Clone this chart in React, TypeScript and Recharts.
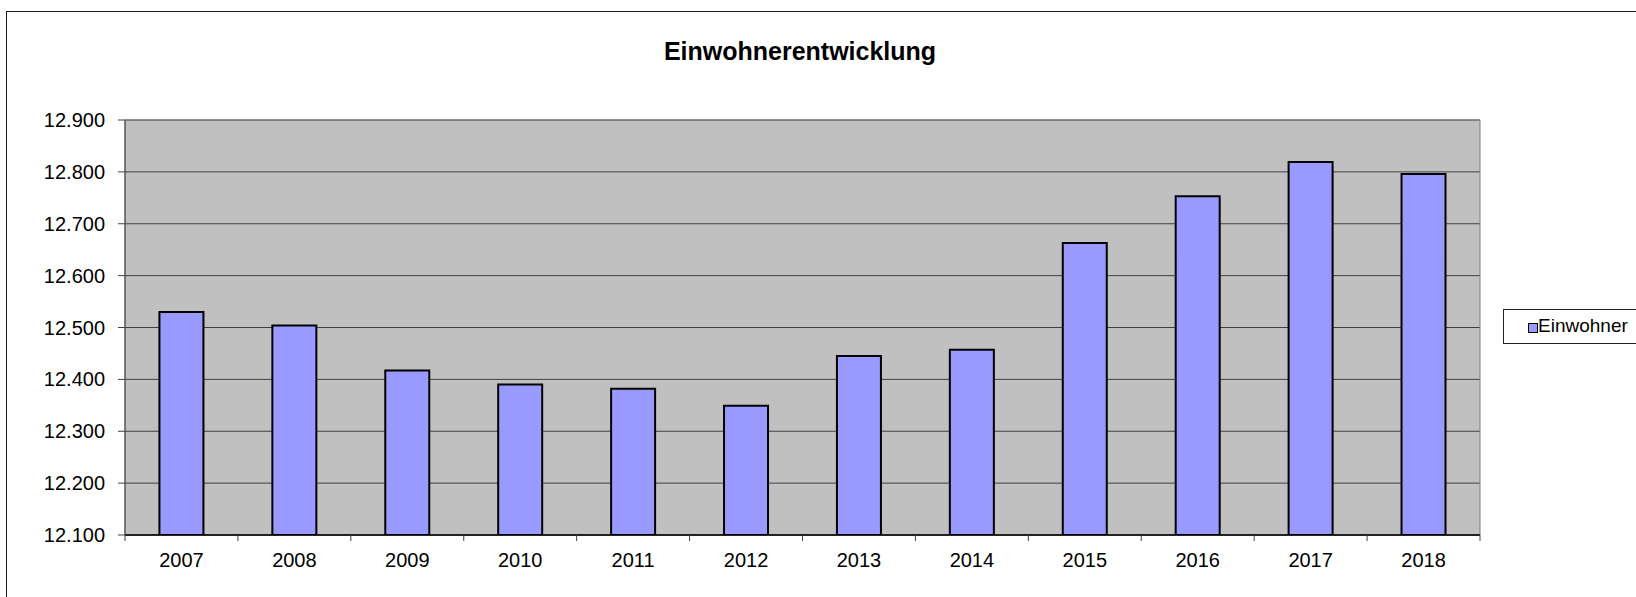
import React from 'react';
import { BarChart, Bar, XAxis, YAxis, CartesianGrid, ReferenceArea } from 'recharts';

const years = ['2007', '2008', '2009', '2010', '2011', '2012', '2013', '2014', '2015', '2016', '2017', '2018'];
const einwohner = [12530, 12504, 12417, 12390, 12382, 12349, 12445, 12457, 12663, 12753, 12819, 12796];
const yTicks = [12100, 12200, 12300, 12400, 12500, 12600, 12700, 12800, 12900];
const seriesName = 'Einwohner';
const title = 'Einwohnerentwicklung';

const data = years.map((y, i) => ({ year: y, value: einwohner[i] }));

const FONT = '"Liberation Sans", Arial, sans-serif';

const fmt = (v: number) => {
  const t = Math.floor(v / 1000);
  const r = String(v % 1000).padStart(3, '0');
  return `${t}.${r}`;
};

const X_TICK_SIZE = 6;
const X_TICK_MARGIN = 11.5;

const XTick = (props: any) => {
  const { x, y, payload, index, visibleTicksCount, width } = props;
  const half = payload && typeof payload.offset === 'number' && payload.offset > 0
    ? payload.offset
    : width / visibleTicksCount / 2;
  const axisY = y - X_TICK_MARGIN - X_TICK_SIZE;
  return (
    <g>
      <line x1={x - half} x2={x - half} y1={axisY} y2={axisY + X_TICK_SIZE} stroke="#404040" strokeWidth={1} />
      {index === visibleTicksCount - 1 && (
        <line x1={x + half} x2={x + half} y1={axisY} y2={axisY + X_TICK_SIZE} stroke="#404040" strokeWidth={1} />
      )}
      <text x={x} y={y} dy="0.71em" textAnchor="middle" fill="#000" fontSize={20} fontFamily={FONT}>
        {payload.value}
      </text>
    </g>
  );
};

export default function App() {
  return (
    <div style={{ position: 'fixed', left: 0, top: 0, width: 1636, height: 597, overflow: 'hidden', background: '#fff' }}>
      <div style={{ position: 'absolute', left: 6, top: 11, width: 1700, height: 700, border: '1px solid #1a1a1a', boxSizing: 'border-box' }} />
      <svg style={{ position: 'absolute', left: 0, top: 0 }} width={1636} height={100}>
        <text x={800} y={60} textAnchor="middle" fontFamily={FONT} fontWeight="bold" fontSize={25} fill="#000">
          {title}
        </text>
      </svg>
      <div style={{ position: 'absolute', left: 0, top: 0 }}>
        <BarChart
          width={1636}
          height={597}
          data={data}
          margin={{ top: 120, right: 156, bottom: 0, left: 0 }}
          barCategoryGap="30.5%"
        >
          <CartesianGrid vertical={false} stroke="#404040" fill="#C0C0C0" fillOpacity={1} />
          <ReferenceArea x1="2007" x2="2018" y1={12100} y2={12900} fill="none" stroke="#808080" strokeWidth={1} ifOverflow="visible" />
          <XAxis
            dataKey="year"
            height={62}
            axisLine={{ stroke: '#000', strokeWidth: 1.5 }}
            tickLine={false}
            tickSize={X_TICK_SIZE}
            tickMargin={X_TICK_MARGIN}
            tick={<XTick />}
            interval={0}
          />
          <YAxis
            width={125}
            domain={[12100, 12900]}
            ticks={yTicks}
            allowDataOverflow
            axisLine={{ stroke: '#404040' }}
            tickLine={{ stroke: '#404040' }}
            tickSize={7}
            tickMargin={13}
            tickFormatter={fmt}
            tick={{ fill: '#000', fontSize: 20, fontFamily: FONT }}
          />
          <Bar dataKey="value" name={seriesName} fill="#9999FF" stroke="#000" strokeWidth={2} isAnimationActive={false} />
        </BarChart>
      </div>
      <div
        style={{
          position: 'absolute',
          left: 1503,
          top: 309,
          width: 200,
          height: 35,
          border: '1px solid #222',
          boxSizing: 'border-box',
          background: '#fff',
        }}
      >
        <div style={{ position: 'absolute', left: 24, top: 13, width: 8, height: 8, background: '#9999FF', border: '1px solid #000' }} />
        <div style={{ position: 'absolute', left: 34, top: 5, fontFamily: FONT, fontSize: 19, lineHeight: '22px', color: '#000', whiteSpace: 'nowrap' }}>
          {seriesName}
        </div>
      </div>
    </div>
  );
}
